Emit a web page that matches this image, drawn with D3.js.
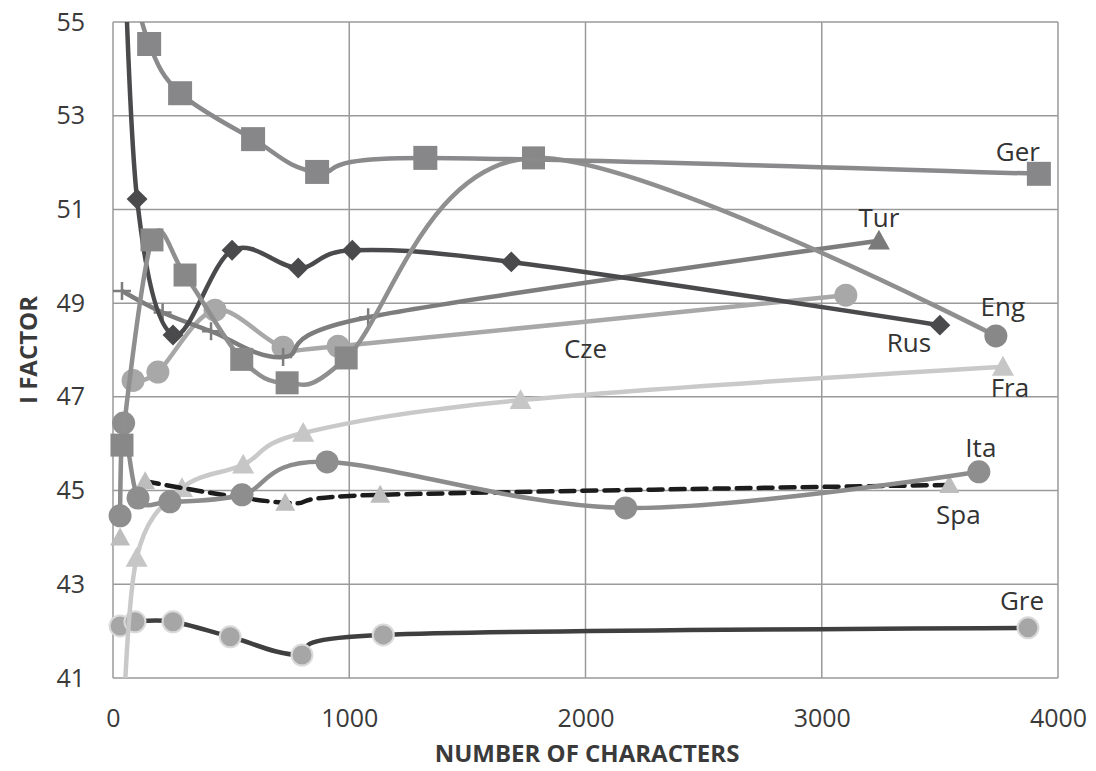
<!DOCTYPE html>
<html><head><meta charset="utf-8">
<script src="https://cdn.jsdelivr.net/npm/d3@7"></script>
<style>
body{margin:0;background:#fff;}
text{font-family:"Open Sans",sans-serif;}
</style></head>
<body><svg id="c" width="1096" height="771"></svg>
<script>
const xTicks = [0, 1000, 2000, 3000, 4000];
const yTicks = [41, 43, 45, 47, 49, 51, 53, 55];

const greX = [30, 93, 254, 496, 800, 1144, 3873];
const greY = [42.11, 42.2, 42.2, 41.88, 41.49, 41.92, 42.07];
const fraX = [40, 100, 292, 551, 805, 1725, 3767];
const fraY = [39.5, 43.56, 45.05, 45.55, 46.23, 46.93, 47.64];
const spaX = [30, 136, 729, 1131, 3540];
const spaY = [44.0, 45.2, 44.74, 44.91, 45.12];
const itaX = [30, 45, 106, 241, 546, 906, 2170, 3665];
const itaY = [44.46, 46.44, 44.84, 44.76, 44.91, 45.61, 44.63, 45.4];
const czeX = [85, 190, 432, 720, 953, 3102];
const czeY = [47.35, 47.53, 48.85, 48.06, 48.08, 49.17];
const turX = [38, 210, 415, 720, 1080, 3242];
const turY = [49.26, 48.8, 48.4, 47.85, 48.7, 50.33];
const rusX = [40, 102, 254, 504, 784, 1013, 1686, 3500];
const rusY = [58, 51.22, 48.32, 50.13, 49.75, 50.13, 49.88, 48.53];
const engX = [38, 165, 305, 545, 737, 987, 1780, 3737];
const engY = [45.97, 50.35, 49.6, 47.8, 47.3, 47.83, 52.1, 48.3];
const gerX = [60, 153, 284, 593, 864, 1322, 3919];
const gerY = [56.3, 54.53, 53.48, 52.5, 51.8, 52.1, 51.76];

const seriesNames = ["Gre", "Fra", "Spa", "Ita", "Cze", "Tur", "Rus", "Eng", "Ger"];

const svg = d3.select("#c");
const L = 113, R = 1058, T = 22, B = 678;
const x = d3.scaleLinear().domain([0, 4000]).range([L, R]);
const y = d3.scaleLinear().domain([41, 55]).range([B, T]);

// grid
const grid = svg.append("g");
grid.selectAll("line.h").data(yTicks).join("line")
  .attr("x1", L).attr("x2", R).attr("y1", d => y(d)).attr("y2", d => y(d))
  .attr("stroke", "#9a9a9a").attr("stroke-width", 1.5);
grid.selectAll("line.v").data(xTicks).join("line")
  .attr("y1", T).attr("y2", B).attr("x1", d => x(d)).attr("x2", d => x(d))
  .attr("stroke", "#9a9a9a").attr("stroke-width", 1.5);

// axes
const xAxis = svg.append("g").attr("transform", `translate(0,${B})`)
  .call(d3.axisBottom(x).tickValues(xTicks).tickSize(0).tickPadding(31).tickFormat(d3.format("d")));
const yAxis = svg.append("g").attr("transform", `translate(${L},0)`)
  .call(d3.axisLeft(y).tickValues(yTicks).tickSize(0).tickPadding(28).tickFormat(d3.format("d")));
[xAxis, yAxis].forEach(a => {
  a.select(".domain").remove();
  a.selectAll("text").attr("font-family", "Open Sans").attr("font-size", 25).attr("fill", "#3a3a3a");
});

svg.append("text").attr("x", 587).attr("y", 762).attr("text-anchor", "middle")
  .attr("font-size", 24).attr("font-weight", "bold").attr("fill", "#3a3a3a").text("NUMBER OF CHARACTERS");
svg.append("text").attr("transform", "translate(37,350) rotate(-90)").attr("text-anchor", "middle")
  .attr("font-size", 24).attr("font-weight", "bold").attr("fill", "#3a3a3a").text("I FACTOR");

svg.append("clipPath").attr("id", "clip").append("rect")
  .attr("x", L).attr("y", T).attr("width", R - L).attr("height", B - T);

const cfg = {
  Gre: {xs: greX, ys: greY, line: "#3f3f3f", fill: "#a6a6a6", stroke: "#dadada", sw: 2, marker: "circle", size: 21, label: [-6, -18]},
  Fra: {xs: fraX, ys: fraY, line: "#c9c9c9", fill: "#c6c6c6", marker: "triangle", size: 22, label: [7, 30]},
  Spa: {xs: spaX, ys: spaY, line: "#1c1c1c", dash: "14,8", fill: "#bdbdbd", marker: "triangle", size: 20, lineFrom: 1, label: [9, 39]},
  Ita: {xs: itaX, ys: itaY, line: "#8c8c8c", fill: "#8e8e8e", marker: "circle", size: 23, label: [2, -15]},
  Cze: {xs: czeX, ys: czeY, line: "#a8a8a8", fill: "#a8a8a8", marker: "circle", size: 23, label: null},
  Tur: {xs: turX, ys: turY, line: "#7d7d7d", fill: "#7a7a7a", marker: "cross", last: "triangle", size: 22, label: [0, -14]},
  Rus: {xs: rusX, ys: rusY, line: "#4a4a4c", fill: "#4a4a4c", marker: "diamond", size: 19, label: [-31, 27]},
  Eng: {xs: engX, ys: engY, line: "#8f8f8f", fill: "#888888", marker: "square", last: "circle", size: 23, label: [7, -20]},
  Ger: {xs: gerX, ys: gerY, line: "#8a8a8c", fill: "#878789", marker: "square", size: 24, label: [-21, -13]}
};

const curve = d3.curveCardinal.tension(0);
const lineGen = d3.line().x(d => x(d[0])).y(d => y(d[1])).curve(curve);

function markerPath(type, s) {
  const h = s / 2;
  if (type === "square") return `M${-h},${-h}H${h}V${h}H${-h}Z`;
  if (type === "diamond") return `M0,${-h * 1.1}L${h * 1.1},0L0,${h * 1.1}L${-h * 1.1},0Z`;
  if (type === "triangle") return `M0,${-h}L${h},${h * 0.8}L${-h},${h * 0.8}Z`;
  if (type === "circle") return d3.arc()({innerRadius: 0, outerRadius: h, startAngle: 0, endAngle: 2 * Math.PI});
  return "";
}

seriesNames.forEach(name => {
  const c = cfg[name];
  const pts = c.xs.map((v, i) => [v, c.ys[i]]);
  const g = svg.append("g");
  g.append("path").attr("clip-path", "url(#clip)").attr("d", lineGen(pts.slice(c.lineFrom || 0)))
    .attr("fill", "none").attr("stroke", c.line).attr("stroke-width", 4.5)
    .attr("stroke-dasharray", c.dash || null).attr("stroke-linecap", c.dash ? "round" : "butt");
  const vis = pts.map((p, i) => ({p, i})).filter(o => o.p[1] >= 41 && o.p[1] <= 55);
  vis.forEach(o => {
    const isLast = o.i === pts.length - 1;
    const type = isLast && c.last ? c.last : c.marker;
    const px = x(o.p[0]), py = y(o.p[1]);
    if (type === "cross") {
      g.append("path").attr("d", `M${px - 9},${py}H${px + 9}M${px},${py - 9}V${py + 9}`)
        .attr("stroke", c.line).attr("stroke-width", 2.5);
    } else {
      g.append("path").attr("d", markerPath(type, c.size)).attr("transform", `translate(${px},${py})`)
        .attr("fill", c.fill).attr("stroke", c.stroke || "none").attr("stroke-width", c.sw || 0);
    }
  });
});

// labels
const labelText = svg.append("g");
seriesNames.forEach(name => {
  const c = cfg[name];
  if (!c.label) return;
  const n = c.xs.length - 1;
  labelText.append("text").attr("x", x(c.xs[n]) + c.label[0]).attr("y", y(c.ys[n]) + c.label[1])
    .attr("text-anchor", "middle").attr("font-size", 26).attr("fill", "#333").text(name);
});
labelText.append("text").attr("x", x(2000)).attr("y", 358).attr("text-anchor", "middle")
  .attr("font-size", 26).attr("fill", "#333").text("Cze");
</script></body></html>
